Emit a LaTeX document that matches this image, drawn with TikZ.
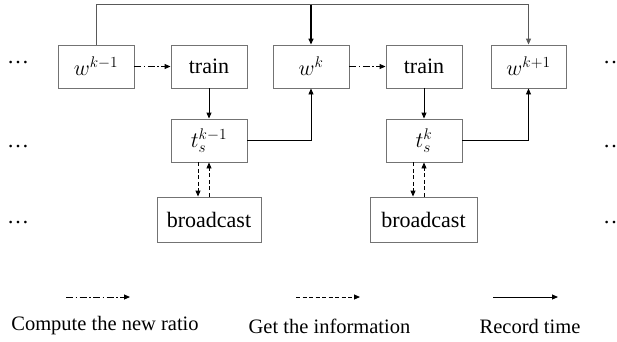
\RequirePackage{fix-cm}
\documentclass[tikz,border=0pt]{standalone}
\usepackage{fontspec}
\setmainfont{Liberation Serif}
\usetikzlibrary{arrows.meta}

\tikzset{
  blk/.style={draw=black!55, line width=0.9pt, minimum height=43pt, inner sep=0pt,
    font=\fontsize{22}{26}\selectfont},
  flow/.style={line width=0.9pt, -{Triangle[length=6pt,width=5pt]}},
  ratio/.style={flow, dash pattern=on 7pt off 2.5pt on 1.5pt off 2.5pt},
  info/.style={flow, dash pattern=on 4pt off 2.5pt},
  dots/.style={font=\fontsize{22}{26}\selectfont, inner sep=0pt},
  legend/.style={font=\fontsize{20.5}{24}\selectfont, inner sep=0pt}
}

\begin{document}
\begin{tikzpicture}[x=1pt, y=-1pt]
  \useasboundingbox (0,0) rectangle (617,341);

  % upper row
  \node[blk, minimum width=76pt] (wa) at (96,66.5) {$w^{k-1}$};
  \node[blk, minimum width=76pt] (tra) at (209,66.5) {train};
  \node[blk, minimum width=76pt] (wb) at (311,66.5) {$w^{k}$};
  \node[blk, minimum width=76pt] (trb) at (424,66.5) {train};
  \node[blk, minimum width=75pt] (wc) at (528.5,66.5) {$w^{k+1}$};

  % time stamps
  \node[blk, minimum width=76pt] (tsa) at (209,140.5) {$t_s^{k-1}$};
  \node[blk, minimum width=76pt] (tsb) at (424,140.5) {$t_s^{k}$};

  % broadcast
  \node[blk, minimum width=104pt, minimum height=45pt] (bca) at (209,219.5) {broadcast};
  \node[blk, minimum width=107pt, minimum height=45pt] (bcb) at (423.5,219.5) {broadcast};

  % ellipses at the sides
  \foreach \y/\n in {63/1,147/2,223/3}{
    \node[dots, anchor=west] (ld\n) at (7,\y) {\ldots};
    \node[dots, anchor=west] (rd\n) at (603,\y) {\ldots};
  }

  % record time line across the top
  \coordinate (topa) at (96,4.5);
  \coordinate (topb) at (311,4.5);
  \coordinate (topc) at (528.5,4.5);
  \draw[flow, draw=black!65] (wa.north) -- (topa) -- (topc) -- (wc.north);
  \draw[flow, line width=1.4pt] (topb) -- (wb.north);

  % compute the new ratio
  \draw[ratio] (wa.east) -- (tra.west);
  \draw[ratio] (wb.east) -- (trb.west);

  % train -> time stamp
  \draw[flow] (tra.south) -- (tsa.north);
  \draw[flow] (trb.south) -- (tsb.north);

  % time stamp -> next weights
  \draw[flow] (tsa.east) -| (wb.south);
  \draw[flow] (tsb.east) -| (wc.south);

  % exchange with broadcast
  \draw[info] ([xshift=-11pt]tsa.south) -- ([xshift=-11pt]tsa.south |- bca.north);
  \draw[info] (bca.north -| tsa.south) -- (tsa.south);
  \draw[info] ([xshift=-11pt]tsb.south) -- ([xshift=-11pt]tsb.south |- bcb.north);
  \draw[info] (bcb.north -| tsb.south) -- (tsb.south);

  % legend
  \coordinate (la1) at (66,297);   \coordinate (la2) at (130,297);
  \coordinate (lb1) at (296,297);  \coordinate (lb2) at (360,297);
  \coordinate (lc1) at (493,297);  \coordinate (lc2) at (558,297);
  \draw[ratio] (la1) -- (la2);
  \draw[info] (lb1) -- (lb2);
  \draw[flow] (lc1) -- (lc2);
  \node[legend] (lta) at (105,326) {Compute the new ratio};
  \node[legend] (ltb) at (329.5,326) {Get the information};
  \node[legend] (ltc) at (530,326) {Record time};
\end{tikzpicture}
\end{document}
